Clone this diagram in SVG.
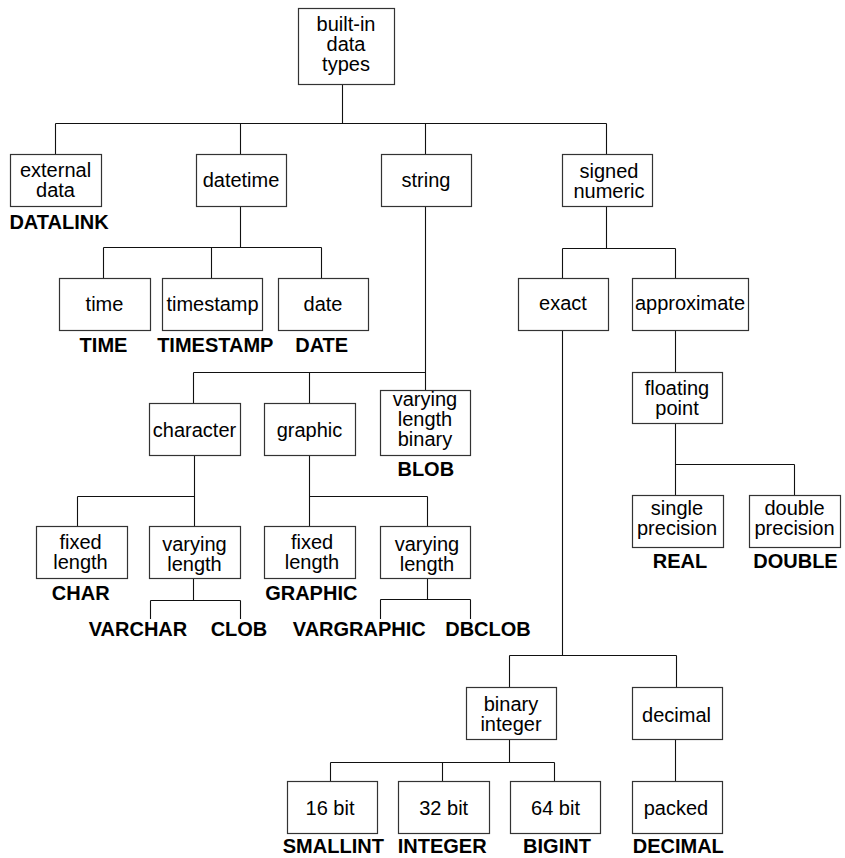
<svg xmlns="http://www.w3.org/2000/svg" width="845" height="858" viewBox="0 0 845 858">
<style>
rect{fill:#fff;stroke:#333;stroke-width:1.2}
text{font-family:"Liberation Sans",Arial,sans-serif;font-size:20px;fill:#000;text-anchor:middle}
.b{font-weight:bold}
#connectors path{fill:none;stroke:#111;stroke-width:1.1}
</style>
<rect x="0" y="0" width="845" height="858" style="stroke:none;fill:#fff"/>
<g id="connectors">
<path d="M342.5 84 V123.5 M55.5 123.5 H606.5 M55.5 123.5 V154 M240.5 123.5 V154 M425.5 123.5 V154 M606.5 123.5 V154"/>
<path d="M240.5 206 V247.5 M103.5 247.5 H321.5 M103.5 247.5 V278 M211.5 247.5 V278 M321.5 247.5 V278"/>
<path d="M425.5 206 V390.5 M193.5 372.5 H425.5 M193.5 372.5 V403 M309.5 372.5 V403"/>
<path d="M194.5 455 V526 M77.5 496.5 H194.5 M77.5 496.5 V526"/>
<path d="M193.5 578 V600.5 M150.5 600.5 H240.5 M150.5 600.5 V619 M240.5 600.5 V619"/>
<path d="M309.5 455 V526 M309.5 496.5 H427.5 M427.5 496.5 V526"/>
<path d="M427.5 578 V599.5 M380.5 599.5 H470.5 M380.5 599.5 V619 M470.5 599.5 V619"/>
<path d="M606.5 206 V248.5 M562.5 248.5 H675.5 M562.5 248.5 V278 M675.5 248.5 V278"/>
<path d="M562.5 330 V655.5 M509.5 655.5 H676.5 M509.5 655.5 V687 M676.5 655.5 V687"/>
<path d="M675.5 330 V372"/>
<path d="M675.5 423 V495 M675.5 464.5 H794.5 M794.5 464.5 V495"/>
<path d="M509.5 739 V762.5 M330.5 762.5 H554.5 M330.5 762.5 V781 M442.5 762.5 V781 M554.5 762.5 V781"/>
<path d="M675.5 739 V781"/>
</g>
<g id="root"><rect x="298.5" y="8.5" width="96" height="76"/><text x="346" y="31">built-in</text><text x="346" y="51">data</text><text x="346" y="71">types</text></g>
<g id="external"><rect x="10.5" y="154.5" width="91" height="52"/><text x="55.5" y="176.5">external</text><text x="55.5" y="196.5">data</text><text class="b" x="59" y="229">DATALINK</text></g>
<g id="datetime"><rect x="196.5" y="154.5" width="90" height="52"/><text x="241" y="187">datetime</text></g>
<g id="string"><rect x="381.5" y="154.5" width="90" height="52"/><text x="426" y="187">string</text></g>
<g id="signed-numeric"><rect x="562.5" y="154.5" width="90" height="52"/><text x="609" y="178">signed</text><text x="609" y="198">numeric</text></g>
<g id="time"><rect x="59.5" y="278.5" width="91" height="52"/><text x="104.5" y="311">time</text><text class="b" x="103.5" y="352">TIME</text></g>
<g id="timestamp"><rect x="162.5" y="278.5" width="100" height="52"/><text x="212.5" y="311">timestamp</text><text class="b" x="215.3" y="352">TIMESTAMP</text></g>
<g id="date"><rect x="278.5" y="278.5" width="90" height="52"/><text x="323" y="311">date</text><text class="b" x="321.7" y="352">DATE</text></g>
<g id="character"><rect x="149.5" y="403.5" width="91" height="52"/><text x="194.5" y="437">character</text></g>
<g id="graphic"><rect x="264.5" y="403.5" width="91" height="52"/><text x="309.5" y="437">graphic</text></g>
<g id="varying-length-binary"><rect x="380.5" y="390.5" width="90" height="65"/><text x="425" y="405.5">varying</text><text x="425" y="425.5">length</text><text x="425" y="445.5">binary</text><text class="b" x="425.8" y="476">BLOB</text></g>
<g id="char-fixed"><rect x="36.5" y="526.5" width="91" height="52"/><text x="80.5" y="549">fixed</text><text x="80.5" y="569">length</text><text class="b" x="80.7" y="600">CHAR</text></g>
<g id="char-varying"><rect x="149.5" y="526.5" width="91" height="52"/><text x="194.5" y="550.5">varying</text><text x="194.5" y="570.5">length</text></g>
<g id="varchar"><text class="b" x="138" y="636">VARCHAR</text></g>
<g id="clob"><text class="b" x="239" y="636">CLOB</text></g>
<g id="graphic-fixed"><rect x="264.5" y="526.5" width="91" height="52"/><text x="312" y="549">fixed</text><text x="312" y="569">length</text><text class="b" x="311.3" y="600">GRAPHIC</text></g>
<g id="graphic-varying"><rect x="380.5" y="526.5" width="90" height="52"/><text x="427" y="550.5">varying</text><text x="427" y="570.5">length</text></g>
<g id="vargraphic"><text class="b" x="359.3" y="636">VARGRAPHIC</text></g>
<g id="dbclob"><text class="b" x="488" y="636">DBCLOB</text></g>
<g id="exact"><rect x="518.5" y="278.5" width="90" height="52"/><text x="563" y="309.5">exact</text></g>
<g id="approximate"><rect x="632.5" y="278.5" width="116" height="52"/><text x="690" y="309.5">approximate</text></g>
<g id="floating-point"><rect x="632.5" y="372.5" width="90" height="51"/><text x="677" y="395">floating</text><text x="677" y="415">point</text></g>
<g id="single-precision"><rect x="632.5" y="495.5" width="91" height="52"/><text x="677" y="515">single</text><text x="677" y="535">precision</text><text class="b" x="680" y="568">REAL</text></g>
<g id="double-precision"><rect x="749.5" y="495.5" width="91" height="52"/><text x="794.5" y="515">double</text><text x="794.5" y="535">precision</text><text class="b" x="795.5" y="568">DOUBLE</text></g>
<g id="binary-integer"><rect x="466.5" y="687.5" width="90" height="52"/><text x="511" y="711">binary</text><text x="511" y="731">integer</text></g>
<g id="decimal"><rect x="632.5" y="687.5" width="90" height="52"/><text x="676.5" y="722">decimal</text></g>
<g id="bit16"><rect x="287.5" y="781.5" width="90" height="52"/><text x="330" y="815">16 bit</text><text class="b" x="333.3" y="853">SMALLINT</text></g>
<g id="bit32"><rect x="398.5" y="781.5" width="91" height="52"/><text x="443.7" y="814.5">32 bit</text><text class="b" x="442.2" y="853">INTEGER</text></g>
<g id="bit64"><rect x="510.5" y="781.5" width="90" height="52"/><text x="555.5" y="814.5">64 bit</text><text class="b" x="557" y="853">BIGINT</text></g>
<g id="packed"><rect x="632.5" y="781.5" width="90" height="52"/><text x="676" y="814.5">packed</text><text class="b" x="678.3" y="853">DECIMAL</text></g>
</svg>
